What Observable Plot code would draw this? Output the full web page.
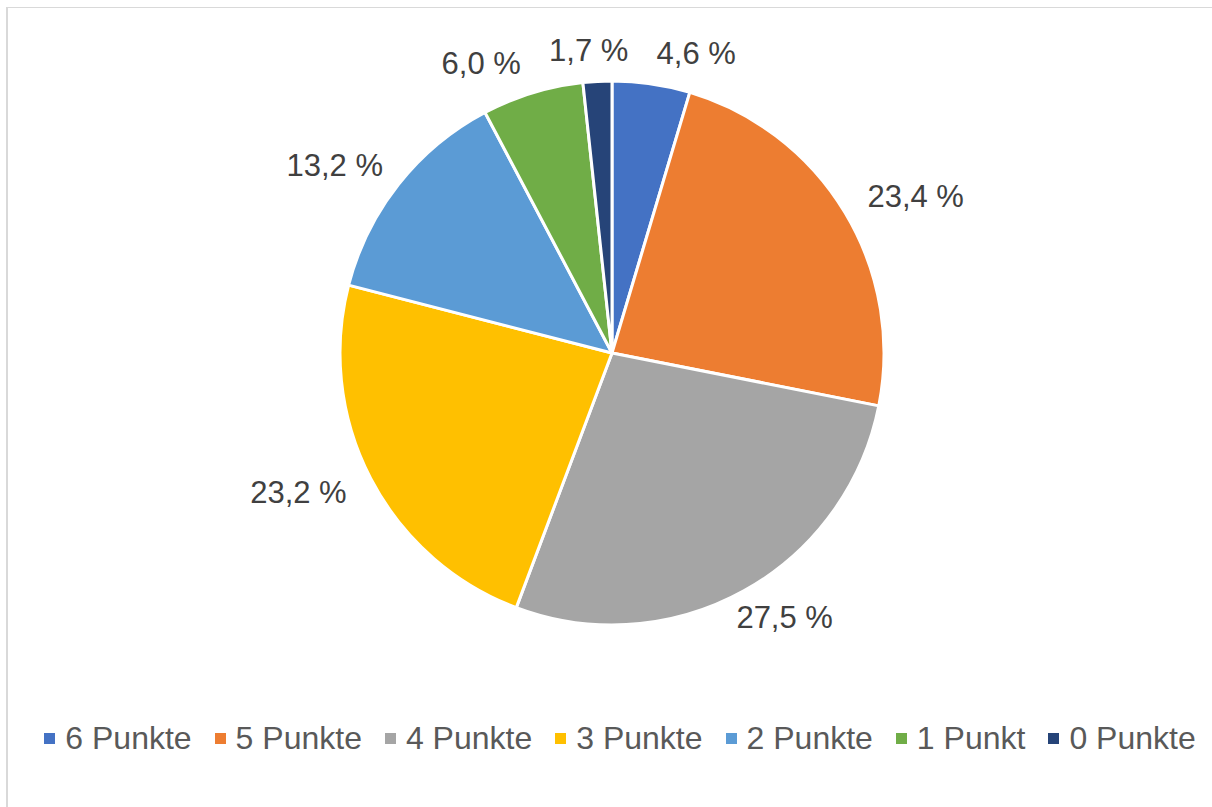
<!DOCTYPE html>
<html>
<head>
<meta charset="utf-8">
<script src="https://cdn.jsdelivr.net/npm/d3@7"></script>
<script src="https://cdn.jsdelivr.net/npm/@observablehq/plot@0.6"></script>
<style>
  html, body { margin: 0; padding: 0; background: #fff; overflow: hidden; width: 1212px; height: 807px; }
  #frame { position: absolute; left: 6px; top: 7px; width: 1300px; height: 900px; border-left: 2px solid #d9d9d9; border-top: 1px solid #d9d9d9; box-sizing: border-box; }
  #chart { position: absolute; left: 0; top: 0; }
  #legend { position: absolute; left: 0; top: 720px; width: 1212px; height: 36px; padding-left: 28px; box-sizing: border-box;
            display: flex; justify-content: center; align-items: center; gap: 23px;
            font-family: "Liberation Sans", Arial, sans-serif; font-size: 32px; color: #595959; }
  .item { display: flex; align-items: center; white-space: nowrap; }
  .sw { width: 11px; height: 11px; margin-right: 10px; display: inline-block; }
</style>
</head>
<body>
<div id="frame"></div>
<div id="chart"></div>
<div id="legend"></div>
<script>
const categories = ["6 Punkte", "5 Punkte", "4 Punkte", "3 Punkte", "2 Punkte", "1 Punkt", "0 Punkte"];
const values = [4.6, 23.4, 27.5, 23.2, 13.2, 6.0, 1.7];
const labels = ["4,6 %", "23,4 %", "27,5 %", "23,2 %", "13,2 %", "6,0 %", "1,7 %"];
const colors = ["#4472C4", "#ED7D31", "#A5A5A5", "#FFC000", "#5B9BD5", "#70AD47", "#264478"];

const data = categories.map((c, i) => ({category: c, value: values[i], label: labels[i], color: colors[i]}));
const arcs = d3.pie().sort(null).value(d => d.value)(data);

// label placement (outside end) in pixel offsets from centre, then converted to data units (radius = 1)
const R = 272, FS = 31;
const labelPos = arcs.map(a => {
  const t = (a.startAngle + a.endAngle) / 2;
  const s = Math.sin(t), c = Math.cos(t);
  const w = a.data.label.length * 0.5 * FS + 30;
  return {label: a.data.label, px: (R + 16 + 66) * s, py: -(R + 16 + 15) * c, w, h: FS + 4};
});
// simple overlap relaxation along x
for (let k = 0; k < 200; k++) {
  for (let i = 0; i < labelPos.length; i++) {
    for (let j = i + 1; j < labelPos.length; j++) {
      const a = labelPos[i], b = labelPos[j];
      const ox = (a.w + b.w) / 2 - Math.abs(a.px - b.px);
      const oy = (a.h + b.h) / 2 - Math.abs(a.py - b.py);
      if (ox > 0 && oy > 0) {
        const dir = a.px < b.px ? -1 : 1;
        a.px += dir * ox / 4;
        b.px -= dir * ox / 4;
      }
    }
  }
}
const labelData = labelPos.map(d => ({label: d.label, x: d.px / R, y: -d.py / R}));

function pieMark(index, scales, values, dimensions) {
  const cx = scales.x(0), cy = scales.y(0);
  const r = scales.x(1) - scales.x(0);
  const arc = d3.arc().innerRadius(0).outerRadius(r);
  const g = d3.create("svg:g").attr("transform", `translate(${cx},${cy})`);
  g.selectAll("path").data(arcs).join("path")
    .attr("d", arc)
    .attr("fill", d => d.data.color)
    .attr("stroke", "#fff")
    .attr("stroke-width", 3)
    .attr("stroke-linejoin", "round");
  return g.node();
}

const chart = Plot.plot({
  width: 1212,
  height: 700,
  marginLeft: 340,
  marginRight: 328,
  marginTop: 81,
  marginBottom: 75,
  x: {domain: [-1, 1], axis: null},
  y: {domain: [-1, 1], axis: null},
  style: {fontFamily: "'Liberation Sans', Arial, sans-serif", background: "transparent", overflow: "visible"},
  marks: [
    pieMark,
    Plot.text(labelData, {x: "x", y: "y", text: "label", fontSize: FS, fill: "#404040", textAnchor: "middle", lineAnchor: "middle"})
  ]
});
document.getElementById("chart").appendChild(chart);

const legend = document.getElementById("legend");
categories.forEach((c, i) => {
  const it = document.createElement("div");
  it.className = "item";
  const sw = document.createElement("span");
  sw.className = "sw";
  sw.style.background = colors[i];
  it.appendChild(sw);
  it.appendChild(document.createTextNode(c));
  legend.appendChild(it);
});
</script>
</body>
</html>
